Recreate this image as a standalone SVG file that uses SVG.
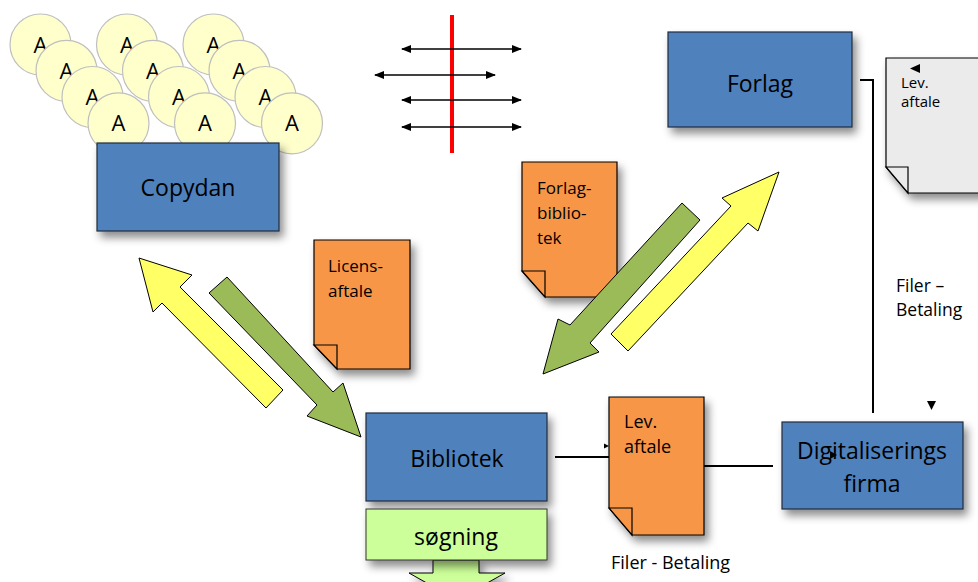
<svg xmlns="http://www.w3.org/2000/svg" width="978" height="582" viewBox="0 0 978 582">
<defs>
<style>
.t{font-family:"Open Sans","Liberation Sans",sans-serif;fill:#000}
.big{font-size:23px;text-anchor:middle}
.doc{font-size:17px}
.box{fill:#4f81bd;stroke:#1f2d3d;stroke-width:1.2}
.orange{fill:#f79646;stroke:#000;stroke-width:1.2}
.gray{fill:#ebebeb;stroke:#000;stroke-width:1.2}
.coin{fill:#ffffcc;stroke:#bfbfbf;stroke-width:1.2}
.ya{fill:#ffff66;stroke:#000;stroke-width:1}
.ga{fill:#9bbb59;stroke:#000;stroke-width:1}
.ln{stroke:#000;stroke-width:2;fill:none}
.dbl{stroke:#000;stroke-width:1.5;fill:none;marker-start:url(#ah);marker-end:url(#ah)}
</style>
<filter id="sh" x="-20%" y="-20%" width="150%" height="160%">
<feDropShadow dx="4" dy="6" stdDeviation="4" flood-color="#000" flood-opacity="0.45"/>
</filter>
<marker id="ah" viewBox="0 0 10 8" refX="9" refY="4" markerWidth="10" markerHeight="8" markerUnits="userSpaceOnUse" orient="auto-start-reverse">
<path d="M0,0 L10,4 L0,8 Z" fill="#000"/>
</marker>
</defs>
<rect width="978" height="582" fill="#fff"/>

<g id="authors">
<circle class="coin" cx="40.5" cy="44.5" r="30.5"/><text class="t" x="40.5" y="52.5" font-size="22" text-anchor="middle">A</text>
<circle class="coin" cx="66.5" cy="70.8" r="30.5"/><text class="t" x="66.5" y="78.8" font-size="22" text-anchor="middle">A</text>
<circle class="coin" cx="92.5" cy="97" r="30.5"/><text class="t" x="92.5" y="105" font-size="22" text-anchor="middle">A</text>
<circle class="coin" cx="118.5" cy="123.3" r="30.5"/><text class="t" x="118.5" y="131.3" font-size="22" text-anchor="middle">A</text>
<circle class="coin" cx="127" cy="44.5" r="30.5"/><text class="t" x="127" y="52.5" font-size="22" text-anchor="middle">A</text>
<circle class="coin" cx="153" cy="70.8" r="30.5"/><text class="t" x="153" y="78.8" font-size="22" text-anchor="middle">A</text>
<circle class="coin" cx="179" cy="97" r="30.5"/><text class="t" x="179" y="105" font-size="22" text-anchor="middle">A</text>
<circle class="coin" cx="205" cy="123.3" r="30.5"/><text class="t" x="205" y="131.3" font-size="22" text-anchor="middle">A</text>
<circle class="coin" cx="213.5" cy="44.5" r="30.5"/><text class="t" x="213.5" y="52.5" font-size="22" text-anchor="middle">A</text>
<circle class="coin" cx="239.5" cy="70.8" r="30.5"/><text class="t" x="239.5" y="78.8" font-size="22" text-anchor="middle">A</text>
<circle class="coin" cx="265.5" cy="97" r="30.5"/><text class="t" x="265.5" y="105" font-size="22" text-anchor="middle">A</text>
<circle class="coin" cx="292" cy="123.3" r="30.5"/><text class="t" x="292" y="131.3" font-size="22" text-anchor="middle">A</text>
</g>

<g id="copydan">
<rect class="box" x="97" y="143" width="182" height="88" filter="url(#sh)"/>
<text class="t big" x="188" y="196">Copydan</text>
</g>

<g id="border">
<line x1="452" y1="15" x2="452" y2="153" stroke="#ff0000" stroke-width="4"/>
<line class="dbl" x1="402" y1="49" x2="521" y2="49"/>
<line class="dbl" x1="375" y1="75" x2="495" y2="75"/>
<line class="dbl" x1="402" y1="100" x2="521" y2="100"/>
<line class="dbl" x1="402" y1="127" x2="521" y2="127"/>
</g>

<g id="forlag">
<rect class="box" x="668" y="32" width="184" height="95" filter="url(#sh)"/>
<text class="t big" x="760" y="92">Forlag</text>
</g>

<g id="lev-aftale-forlag">
<path class="gray" d="M886,58 H992 V193 H908 L886,167 Z" filter="url(#sh)"/>
<path class="gray" d="M886,167 H908 V193 Z"/>
<text class="t" x="901" y="88" font-size="15">Lev.</text>
<text class="t" x="901" y="107" font-size="15">aftale</text>
</g>

<g id="licensaftale">
<path class="orange" d="M314,240 H410 V369 H337 L314,345 Z" filter="url(#sh)"/>
<path class="orange" d="M314,345 H337 V369 Z"/>
<text class="t doc" x="328" y="272">Licens-</text>
<text class="t doc" x="328" y="297">aftale</text>
</g>

<g id="forlag-bibliotek">
<path class="orange" d="M522,162 H617 V297 H545 L522,271 Z" filter="url(#sh)"/>
<path class="orange" d="M522,271 H545 V297 Z"/>
<text class="t doc" x="537" y="194">Forlag-</text>
<text class="t doc" x="537" y="219">biblio-</text>
<text class="t doc" x="537" y="244">tek</text>
</g>

<g id="arrows">
<polygon class="ya" points="139,258 192,275 180,287 283,390 266,408 162,303 153,312"/>
<polygon class="ga" points="209,293 227,277 333,392 343,383 361,437 307,416 317,405"/>
<polygon class="ga" points="682,203 700,220 590,343 599,352 543,374 558,319 570,325"/>
<polygon class="ya" points="611,334 731,206 722,198 779,172 758,231 748,223 628,351"/>
</g>

<g id="bibliotek">
<rect class="box" x="366" y="413" width="181" height="88" filter="url(#sh)"/>
<text class="t big" x="457" y="467">Bibliotek</text>
</g>

<g id="sogning">
<path d="M433,560 V573 H409 L457,600 L505,573 H479 V560 Z" fill="#ccff99" stroke="#000" stroke-width="1" filter="url(#sh)"/>
<rect x="366" y="509" width="181" height="51" fill="#ccff99" stroke="#333" stroke-width="1" filter="url(#sh)"/>
<text class="t big" x="456" y="545">søgning</text>
</g>

<g id="connectors">
<line class="ln" x1="555" y1="457" x2="609" y2="457"/>
<line class="ln" x1="704" y1="466" x2="773" y2="466"/>
<polyline class="ln" points="860,80 873,80 873,413" stroke-width="3"/>
<polygon points="604,443.5 609,446 604,448.5" fill="#000"/>
<polygon points="910,68.5 920,64 920,73" fill="#000"/>
<polygon points="927,401 936,401 931.5,410" fill="#000"/>
</g>

<g id="lev-aftale">
<path class="orange" d="M609,397 H704 V535 H632 L609,508 Z" filter="url(#sh)"/>
<path class="orange" d="M609,508 H632 V535 Z"/>
<text class="t" x="624" y="428" font-size="18">Lev.</text>
<text class="t" x="624" y="453" font-size="18">aftale</text>
</g>

<g id="digitaliserings">
<rect class="box" x="782" y="422" width="181" height="87" filter="url(#sh)"/>
<text class="t big" x="872" y="459">Digitaliserings</text>
<text class="t big" x="872" y="492">firma</text>
<polygon points="830,451 830,459 837,455" fill="#000"/>
</g>

<g id="labels">
<text class="t" x="611" y="569" font-size="18">Filer - Betaling</text>
<text class="t" x="896" y="292" font-size="17.5">Filer –</text>
<text class="t" x="896" y="316" font-size="17.5">Betaling</text>
</g>
</svg>
